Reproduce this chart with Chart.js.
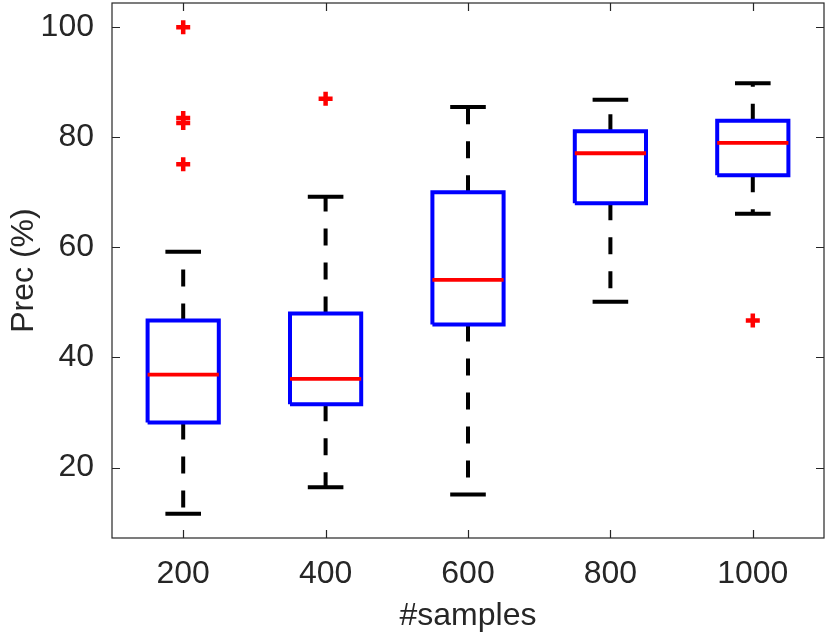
<!DOCTYPE html>
<html>
<head>
<meta charset="utf-8">
<script src="https://cdn.jsdelivr.net/npm/chart.js@4"></script>
<style>
  body { margin: 0; background: #fff; }
  #wrap { width: 830px; height: 635px; }
</style>
</head>
<body>
<div id="wrap"><canvas id="box-chart" width="830" height="635"></canvas></div>
<script>
// data kotak per kategori
const categories = ["200", "400", "600", "800", "1000"];
const whiskerLow = [11.6, 16.4, 15.1, 50.1, 66.1];
const q1 = [28.2, 31.5, 46.0, 68.0, 73.1];
const median = [36.9, 36.1, 54.1, 77.1, 79.0];
const q3 = [46.7, 48.0, 70.0, 81.1, 83.0];
const whiskerHigh = [59.2, 69.2, 85.5, 86.8, 89.8];
const outliers = [
  [75.1, 82.6, 83.5, 100.0],
  [87.0],
  [],
  [],
  [46.7]
];
const yTicks = [20, 40, 60, 80, 100];

const axisColor = "#262626";
const fontFamily = "'Liberation Sans', Arial, sans-serif";
const boxHalf = 0.25;
const capHalf = 0.125;

// bikin titik-titik garis, dipisah pakai y null biar putus
const whiskerPts = [];
const capPts = [];
const boxPts = [];
const medianPts = [];
const outlierPts = [];

categories.forEach(function (c, i) {
  const x = i + 1;
  whiskerPts.push({ x: x, y: q3[i] }, { x: x, y: whiskerHigh[i] }, { x: x, y: null });
  whiskerPts.push({ x: x, y: q1[i] }, { x: x, y: whiskerLow[i] }, { x: x, y: null });

  capPts.push({ x: x - capHalf, y: whiskerHigh[i] }, { x: x + capHalf, y: whiskerHigh[i] }, { x: x, y: null });
  capPts.push({ x: x - capHalf, y: whiskerLow[i] }, { x: x + capHalf, y: whiskerLow[i] }, { x: x, y: null });

  boxPts.push(
    { x: x - boxHalf, y: q1[i] },
    { x: x + boxHalf, y: q1[i] },
    { x: x + boxHalf, y: q3[i] },
    { x: x - boxHalf, y: q3[i] },
    { x: x - boxHalf, y: q1[i] },
    { x: x, y: null }
  );

  medianPts.push({ x: x - boxHalf, y: median[i] }, { x: x + boxHalf, y: median[i] }, { x: x, y: null });

  outliers[i].forEach(function (v) {
    outlierPts.push({ x: x, y: v });
  });
});

function lineSet(data, color, width, dash, order) {
  return {
    type: "line",
    data: data,
    borderColor: color,
    borderWidth: width,
    borderDash: dash,
    borderJoinStyle: "miter",
    pointRadius: 0,
    spanGaps: false,
    fill: false,
    tension: 0,
    order: order
  };
}

// frame + tick ke dalam
const frameTicks = {
  id: "frameTicks",
  afterDraw(chart) {
    const ctx = chart.ctx;
    const a = chart.chartArea;
    const xs = chart.scales.x;
    const ys = chart.scales.y;
    ctx.save();
    ctx.strokeStyle = axisColor;
    ctx.lineWidth = 1.2;
    ctx.strokeRect(a.left, a.top, a.right - a.left, a.bottom - a.top);
    ctx.beginPath();
    const len = 8;
    yTicks.forEach(function (v) {
      const py = Math.round(ys.getPixelForValue(v)) + 0.5;
      ctx.moveTo(a.left, py); ctx.lineTo(a.left + len, py);
      ctx.moveTo(a.right, py); ctx.lineTo(a.right - len, py);
    });
    categories.forEach(function (c, i) {
      const px = Math.round(xs.getPixelForValue(i + 1)) + 0.5;
      ctx.moveTo(px, a.bottom); ctx.lineTo(px, a.bottom - len);
      ctx.moveTo(px, a.top); ctx.lineTo(px, a.top + len);
    });
    ctx.stroke();
    ctx.restore();
  }
};

const boxChart = new Chart(document.querySelector("#box-chart"), {
  type: "scatter",
  data: {
    datasets: [
      lineSet(whiskerPts, "#000000", 4, [17, 17], 5),
      lineSet(capPts, "#000000", 4, [], 4),
      lineSet(boxPts, "#0000ff", 4, [], 3),
      lineSet(medianPts, "#ff0000", 3.8, [], 2),
      {
        type: "scatter",
        data: outlierPts,
        pointStyle: "cross",
        pointRadius: 7,
        pointBorderWidth: 4.5,
        pointBorderColor: "#ff0000",
        pointBackgroundColor: "#ff0000",
        order: 1
      }
    ]
  },
  options: {
    responsive: false,
    animation: false,
    layout: { autoPadding: false, padding: { top: 3, right: 6, left: 0, bottom: 0 } },
    plugins: {
      legend: { display: false },
      tooltip: { enabled: false }
    },
    scales: {
      x: {
        type: "linear",
        min: 0.5,
        max: 5.5,
        grid: { display: false },
        border: { display: false },
        afterBuildTicks: function (scale) {
          scale.ticks = categories.map(function (c, i) { return { value: i + 1 }; });
        },
        afterFit: function (scale) {
          scale.height = 97;
          scale.paddingLeft = 0;
          scale.paddingRight = 0;
        },
        ticks: {
          autoSkip: false,
          maxRotation: 0,
          padding: 9,
          color: axisColor,
          font: { family: fontFamily, size: 32 },
          callback: function (v) { return categories[v - 1]; }
        },
        title: {
          display: true,
          text: "#samples",
          color: axisColor,
          font: { family: fontFamily, size: 32 },
          padding: { top: 1, bottom: 0 }
        }
      },
      y: {
        min: 7.2,
        max: 104.4,
        grid: { display: false },
        border: { display: false },
        afterBuildTicks: function (scale) {
          scale.ticks = yTicks.map(function (v) { return { value: v }; });
        },
        afterFit: function (scale) {
          scale.width = 112;
          scale.paddingTop = 0;
          scale.paddingBottom = 0;
        },
        ticks: {
          padding: 10,
          color: axisColor,
          font: { family: fontFamily, size: 32 }
        },
        title: {
          display: true,
          text: "Prec (%)",
          color: axisColor,
          font: { family: fontFamily, size: 32 },
          padding: { top: 5, bottom: 0 }
        }
      }
    }
  },
  plugins: [frameTicks]
});
</script>
</body>
</html>
